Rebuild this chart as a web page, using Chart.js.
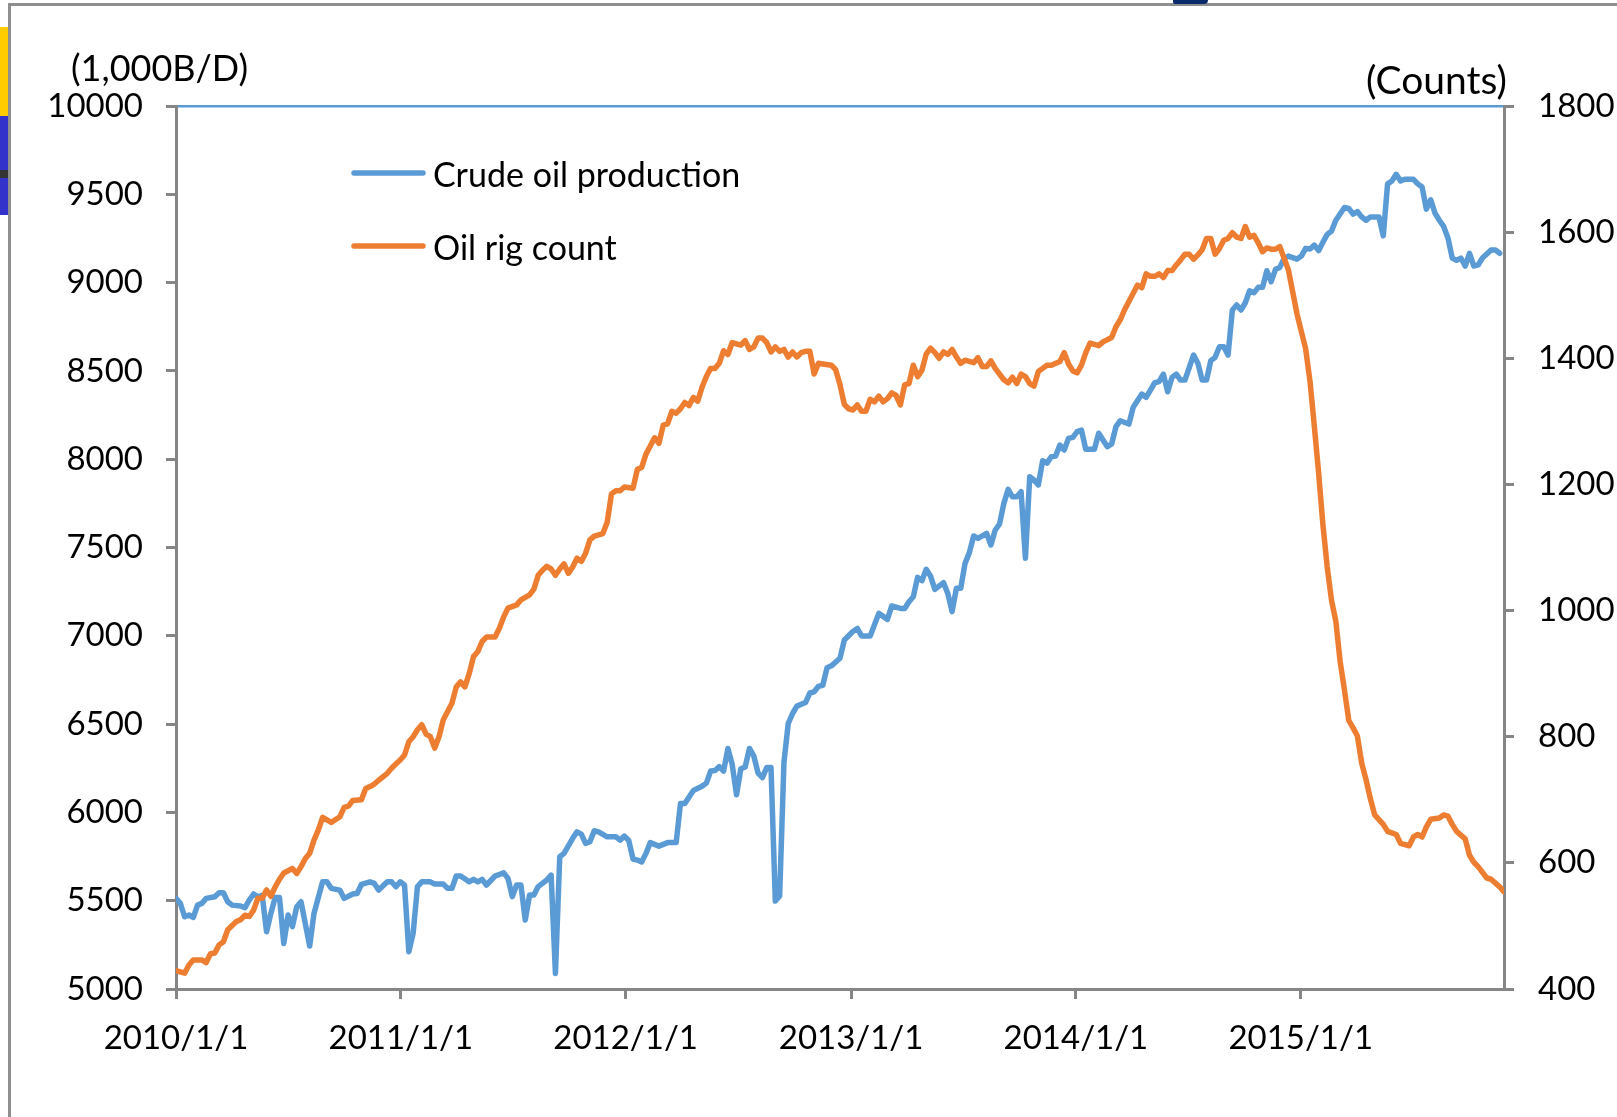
<!DOCTYPE html>
<html>
<head>
<meta charset="utf-8">
<title>Crude oil production and oil rig count</title>
<script src="https://cdn.jsdelivr.net/npm/chart.js@4.4.1/dist/chart.umd.min.js"></script>
<style>
    html, body { margin: 0; padding: 0; background: #fff; }
    body { width: 1617px; height: 1117px; position: relative; overflow: hidden; }
    .deco { position: absolute; }
    #frame-top { left: 8px; top: 3px; width: 1609px; height: 3px; background: #8f8f8f; }
    #frame-left { left: 8px; top: 3px; width: 3px; height: 1114px; background: #8f8f8f; }
    #tab-yellow { left: 0; top: 27px; width: 8px; height: 89px; background: #ffcc00; }
    #tab-blue { left: 0; top: 116px; width: 8px; height: 99px; background: #3333cc; }
    #tab-band { left: 0; top: 170px; width: 8px; height: 8px; background: #333; }
    #top-mark { left: 1173px; top: 0; width: 35px; height: 4px; background: #0b2a6b; border-radius: 0 0 12px 6px; }
    #chart { position: absolute; left: 0; top: 0; }
</style>
</head>
<body>
<div class="deco" id="frame-top"></div>
<div class="deco" id="frame-left"></div>
<div class="deco" id="tab-yellow"></div>
<div class="deco" id="tab-blue"></div>
<div class="deco" id="tab-band"></div>
<div class="deco" id="top-mark"></div>
<canvas id="chart" width="1617" height="1117"></canvas>
<script>
// x values are weeks counted from 2010/1/1 (weekly data)
const yearLabels = ['2010/1/1', '2011/1/1', '2012/1/1', '2013/1/1', '2014/1/1', '2015/1/1'];
const xAxisEnd = '2015/11/27';
const leftTicks = { min: 5000, max: 10000, step: 500 };
const rightTicks = { min: 400, max: 1800, step: 200 };
const leftUnit = '(1,000B/D)';
const rightUnit = '(Counts)';
const seriesNames = ['Crude oil production', 'Oil rig count'];

// [week, 1,000 B/D]
const crudeProduction = [
    [0, 5513], [1, 5485], [2, 5409], [3, 5419], [4, 5405], [5, 5475], [6, 5485], [7, 5513], [9, 5522], [10, 5545],
    [11, 5545], [12, 5494], [13, 5475], [15, 5470], [16, 5460], [17, 5504], [18, 5538], [19, 5522], [20, 5530], [21, 5324],
    [22, 5428], [23, 5518], [24, 5518], [25, 5258], [26, 5419], [27, 5353], [28, 5466], [29, 5494], [31, 5243], [32, 5428],
    [34, 5607], [35, 5607], [36, 5570], [38, 5560], [39, 5513], [41, 5538], [42, 5541], [43, 5592], [45, 5607], [46, 5598],
    [47, 5560], [49, 5607], [50, 5607], [51, 5579], [52, 5607], [53, 5589], [54, 5211], [55, 5315], [56, 5580], [57, 5607],
    [59, 5607], [60, 5594], [62, 5594], [63, 5570], [64, 5570], [65, 5640], [66, 5640], [68, 5607], [69, 5621], [70, 5607],
    [71, 5621], [72, 5589], [74, 5640], [76, 5658], [77, 5626], [78, 5523], [79, 5589], [80, 5589], [81, 5390], [82, 5532],
    [83, 5532], [84, 5580], [86, 5617], [87, 5645], [88, 5088], [89, 5749], [90, 5768], [92, 5853], [93, 5890], [94, 5877],
    [95, 5825], [96, 5834], [97, 5896], [98, 5890], [100, 5862], [102, 5862], [103, 5843], [104, 5866], [105, 5841], [106, 5736],
    [107, 5730], [108, 5719], [109, 5768], [110, 5829], [112, 5809], [114, 5829], [116, 5829], [117, 6050], [118, 6050], [120, 6124],
    [122, 6148], [123, 6166], [124, 6234], [125, 6237], [126, 6259], [127, 6234], [128, 6362], [129, 6271], [130, 6100], [131, 6247],
    [132, 6257], [133, 6362], [134, 6320], [135, 6222], [136, 6197], [137, 6254], [138, 6254], [139, 5498], [140, 5527], [141, 6283],
    [142, 6504], [143, 6560], [144, 6602], [146, 6622], [147, 6676], [148, 6683], [149, 6714], [150, 6720], [151, 6819], [152, 6830],
    [154, 6873], [155, 6976], [156, 7000], [157, 7025], [158, 7042], [159, 6999], [161, 6999], [163, 7127], [165, 7093], [166, 7169],
    [168, 7155], [169, 7155], [170, 7193], [171, 7221], [172, 7331], [173, 7312], [174, 7377], [175, 7338], [176, 7263], [178, 7301],
    [179, 7240], [180, 7137], [181, 7269], [182, 7269], [183, 7410], [184, 7471], [185, 7565], [186, 7552], [188, 7580], [189, 7514],
    [190, 7599], [191, 7633], [192, 7750], [193, 7829], [194, 7787], [195, 7787], [196, 7816], [197, 7439], [198, 7901], [199, 7883],
    [200, 7854], [201, 7991], [202, 7978], [203, 8014], [204, 8018], [205, 8080], [206, 8052], [207, 8118], [208, 8124], [209, 8156],
    [210, 8165], [211, 8056], [213, 8056], [214, 8147], [216, 8071], [217, 8086], [218, 8184], [219, 8218], [221, 8199], [222, 8294],
    [224, 8369], [225, 8350], [227, 8433], [228, 8439], [229, 8482], [230, 8382], [231, 8463], [232, 8482], [233, 8448], [234, 8448],
    [236, 8590], [237, 8543], [238, 8448], [239, 8448], [240, 8558], [241, 8577], [242, 8637], [243, 8637], [244, 8590], [245, 8845],
    [246, 8873], [247, 8845], [248, 8886], [249, 8954], [250, 8943], [251, 8973], [252, 8973], [253, 9067], [254, 9005], [255, 9075],
    [256, 9086], [257, 9137], [258, 9150], [260, 9133], [261, 9150], [262, 9194], [263, 9190], [264, 9212], [265, 9181], [266, 9228],
    [267, 9273], [268, 9292], [269, 9353], [271, 9425], [272, 9420], [273, 9388], [274, 9402], [275, 9372], [276, 9353], [277, 9372],
    [279, 9372], [280, 9265], [281, 9559], [282, 9575], [283, 9613], [284, 9575], [285, 9585], [287, 9585], [288, 9559], [289, 9541],
    [290, 9416], [291, 9469], [292, 9393], [293, 9353], [294, 9318], [295, 9253], [296, 9139], [297, 9126], [298, 9139], [299, 9094],
    [300, 9166], [301, 9094], [302, 9100], [303, 9139], [305, 9185], [306, 9185], [307, 9166],
];

// [week, rigs]
const oilRigCount = [
    [0, 429], [1, 427], [2, 425], [3, 438], [4, 446], [6, 446], [7, 442], [8, 456], [9, 457], [10, 470],
    [11, 475], [12, 494], [14, 507], [15, 510], [16, 517], [17, 515], [18, 525], [19, 544], [20, 544], [21, 557],
    [22, 547], [23, 562], [24, 574], [25, 584], [27, 591], [28, 583], [29, 594], [30, 607], [31, 615], [32, 636],
    [33, 652], [34, 672], [36, 664], [38, 673], [39, 688], [40, 690], [41, 699], [43, 700], [44, 718], [45, 721],
    [46, 725], [47, 731], [49, 742], [50, 750], [51, 757], [52, 763], [53, 771], [54, 792], [55, 800], [56, 811],
    [57, 819], [58, 804], [59, 800], [60, 782], [61, 800], [62, 827], [63, 840], [64, 853], [65, 879], [66, 887],
    [67, 879], [68, 900], [69, 927], [70, 935], [71, 951], [72, 958], [74, 958], [75, 972], [76, 990], [77, 1004],
    [79, 1009], [80, 1017], [82, 1025], [83, 1034], [84, 1056], [85, 1064], [86, 1070], [87, 1066], [88, 1056], [89, 1066],
    [90, 1074], [91, 1059], [92, 1069], [93, 1083], [94, 1078], [95, 1091], [96, 1112], [97, 1118], [99, 1122], [100, 1140],
    [101, 1185], [102, 1190], [103, 1190], [104, 1196], [106, 1194], [107, 1224], [108, 1227], [109, 1248], [110, 1261], [111, 1274],
    [112, 1265], [113, 1294], [114, 1296], [115, 1316], [116, 1313], [117, 1320], [118, 1330], [119, 1325], [120, 1338], [121, 1332],
    [122, 1354], [123, 1371], [124, 1384], [125, 1384], [126, 1392], [127, 1412], [128, 1406], [129, 1425], [131, 1421], [132, 1428],
    [133, 1414], [134, 1418], [135, 1432], [136, 1432], [137, 1425], [138, 1410], [139, 1418], [140, 1411], [141, 1414], [142, 1402],
    [143, 1410], [144, 1402], [145, 1409], [146, 1411], [147, 1411], [148, 1375], [149, 1392], [150, 1391], [152, 1389], [153, 1382],
    [154, 1358], [155, 1327], [156, 1320], [157, 1318], [158, 1326], [159, 1316], [160, 1316], [161, 1335], [162, 1331], [163, 1340],
    [164, 1331], [165, 1336], [166, 1345], [167, 1341], [168, 1326], [169, 1358], [170, 1360], [171, 1389], [172, 1371], [173, 1381],
    [174, 1407], [175, 1416], [176, 1409], [177, 1400], [178, 1410], [179, 1406], [180, 1414], [181, 1402], [182, 1392], [183, 1397],
    [185, 1393], [186, 1401], [187, 1387], [188, 1387], [189, 1396], [190, 1384], [192, 1366], [193, 1361], [194, 1370], [195, 1360],
    [196, 1375], [197, 1371], [198, 1360], [199, 1356], [200, 1379], [201, 1384], [202, 1389], [203, 1389], [205, 1395], [206, 1409],
    [207, 1391], [208, 1380], [209, 1377], [210, 1389], [211, 1409], [212, 1424], [214, 1420], [215, 1426], [217, 1433], [218, 1450],
    [219, 1461], [220, 1477], [221, 1490], [222, 1503], [223, 1516], [224, 1512], [225, 1534], [226, 1530], [227, 1530], [228, 1534],
    [229, 1528], [230, 1539], [231, 1539], [232, 1548], [233, 1556], [234, 1565], [235, 1565], [236, 1557], [237, 1564], [238, 1572],
    [239, 1590], [240, 1590], [241, 1565], [242, 1574], [243, 1587], [244, 1590], [245, 1599], [246, 1592], [247, 1590], [248, 1609],
    [249, 1592], [250, 1595], [251, 1583], [252, 1569], [253, 1575], [254, 1573], [255, 1573], [256, 1577], [258, 1540], [259, 1505],
    [260, 1470], [262, 1415], [263, 1364], [264, 1293], [265, 1219], [266, 1136], [267, 1069], [268, 1016], [269, 983], [270, 919],
    [271, 874], [272, 826], [273, 814], [274, 801], [275, 758], [276, 732], [277, 702], [278, 676], [280, 661], [281, 650],
    [283, 645], [284, 631], [286, 627], [287, 641], [288, 645], [289, 641], [290, 657], [291, 669], [293, 671], [294, 676],
    [295, 674], [296, 661], [297, 650], [299, 638], [300, 612], [301, 601], [302, 594], [304, 576], [305, 574], [307, 562],
    [308, 554],
];

const colors = ['#5b9bd5', '#ed7d31'];
const axisGray = '#868686';
const fontFamily = 'Lato, "Open Sans", sans-serif';
const fontSize = 33;
const lineWidth = 5.5;

const weekOf = (dateStr) => {
    const [y, m, d] = dateStr.split('/').map(Number);
    return (Date.UTC(y, m - 1, d) - Date.UTC(2010, 0, 1)) / (7 * 86400000);
};
const yearTicks = yearLabels.map(weekOf);
const toPoints = (pairs) => pairs.map(([week, value]) => ({ x: week, y: value }));
const plainNumber = (value) => String(value);  // no thousands separator

// unit labels and the in-plot legend
const overlayText = {
    id: 'overlayText',
    afterDraw(chart) {
        const { ctx, chartArea } = chart;
        ctx.save();
        ctx.fillStyle = '#000';
        ctx.textBaseline = 'middle';
        ctx.textAlign = 'left';
        ctx.font = `36px ${fontFamily}`;
        ctx.fillText(leftUnit, chartArea.left - 105, chartArea.top - 37);
        ctx.textAlign = 'right';
        ctx.font = `39px ${fontFamily}`;
        ctx.fillText(rightUnit, chartArea.right + 3, chartArea.top - 25);

        ctx.font = `34px ${fontFamily}`;
        ctx.textAlign = 'left';
        ctx.textBaseline = 'alphabetic';
        ctx.lineCap = 'round';
        ctx.lineWidth = lineWidth;
        chart.data.datasets.forEach((ds, i) => {
            const y = chartArea.top + 67 + i * 73;
            ctx.strokeStyle = ds.borderColor;
            ctx.beginPath();
            ctx.moveTo(chartArea.left + 178, y);
            ctx.lineTo(chartArea.left + 247, y);
            ctx.stroke();
            ctx.fillText(ds.label, chartArea.left + 257, y + 14);
        });
        ctx.restore();
    }
};

const axisGrid = { display: true, drawOnChartArea: false, drawTicks: true, tickLength: 10, color: axisGray, lineWidth: 3 };
const axisBorder = { display: true, color: axisGray, width: 3 };

Chart.defaults.font.family = fontFamily;
Chart.defaults.font.size = fontSize;
Chart.defaults.color = '#000';

document.addEventListener('DOMContentLoaded', () => {
    const ctx = document.getElementById('chart').getContext('2d');
    new Chart(ctx, {
        type: 'line',
        data: {
            datasets: [{
                label: seriesNames[0],
                data: toPoints(crudeProduction),
                borderColor: colors[0],
                borderWidth: lineWidth,
                yAxisID: 'y',
                order: 1,
            }, {
                label: seriesNames[1],
                data: toPoints(oilRigCount),
                borderColor: colors[1],
                borderWidth: lineWidth,
                yAxisID: 'y1',
                order: 0,
            }]
        },
        options: {
            responsive: false,
            animation: false,
            layout: { padding: { top: 106, left: 0, right: 0, bottom: 0 } },
            elements: {
                point: { radius: 0 },
                line: { tension: 0, borderJoinStyle: 'round', borderCapStyle: 'round', fill: false },
            },
            plugins: {
                legend: { display: false },
                tooltip: { enabled: false },
            },
            scales: {
                x: {
                    type: 'linear',
                    position: 'bottom',
                    min: 0,
                    max: weekOf(xAxisEnd),
                    afterBuildTicks: (scale) => { scale.ticks = yearTicks.map(v => ({ value: v })); },
                    afterFit: (scale) => { scale.height = 128; },
                    ticks: {
                        autoSkip: false,
                        maxRotation: 0,
                        padding: 20,
                        callback: (value, index) => yearLabels[index],
                    },
                    grid: axisGrid,
                    border: axisBorder,
                },
                xTop: {
                    type: 'linear',
                    position: 'top',
                    min: 0,
                    max: weekOf(xAxisEnd),
                    afterFit: (scale) => { scale.height = 0; },
                    ticks: { display: false },
                    grid: { display: false },
                    border: { display: true, color: colors[0], width: 2.5 },
                },
                y: {
                    position: 'left',
                    min: leftTicks.min,
                    max: leftTicks.max,
                    afterFit: (scale) => { scale.width = 176; },
                    ticks: { stepSize: leftTicks.step, padding: 23, callback: plainNumber },
                    grid: axisGrid,
                    border: axisBorder,
                },
                y1: {
                    position: 'right',
                    min: rightTicks.min,
                    max: rightTicks.max,
                    afterFit: (scale) => { scale.width = 113; },
                    ticks: { stepSize: rightTicks.step, padding: 24, callback: plainNumber },
                    grid: axisGrid,
                    border: axisBorder,
                },
            },
        },
        plugins: [overlayText],
    });
});
</script>
</body>
</html>
